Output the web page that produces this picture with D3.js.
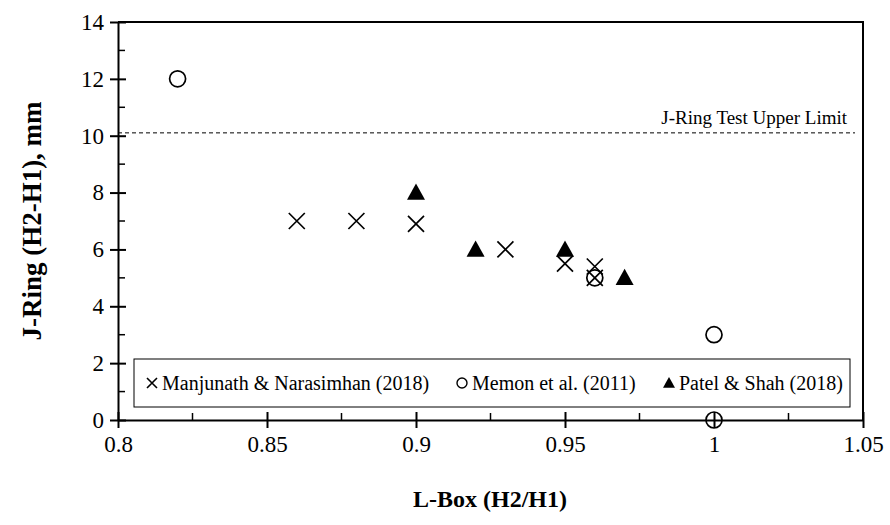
<!DOCTYPE html>
<html><head><meta charset="utf-8">
<script src="https://cdn.jsdelivr.net/npm/d3@7"></script>
<style>body{margin:0;background:#fff}svg{display:block}</style>
</head><body>
<svg id="c" width="890" height="525"></svg>
<script>
const manjunathX = [0.86, 0.88, 0.90, 0.93, 0.95, 0.96, 0.96];
const manjunathY = [7.0, 7.0, 6.9, 6.0, 5.5, 5.4, 5.0];
const memonX = [0.82, 0.96, 1.00, 1.00];
const memonY = [12.0, 5.0, 3.0, 0.0];
const patelX = [0.90, 0.92, 0.95, 0.97];
const patelY = [8.0, 6.0, 6.0, 5.0];
const xTicks = [0.8, 0.85, 0.9, 0.95, 1, 1.05];
const xMinor = [0.825, 0.875, 0.925, 0.975, 1.025];
const yTicks = [0, 2, 4, 6, 8, 10, 12, 14];
const yMinor = [1, 3, 5, 7, 9, 11, 13];
const limitY = 10.1;
const seriesNames = ["Manjunath & Narasimhan (2018)", "Memon et al. (2011)", "Patel & Shah (2018)"];

const FONT = "Liberation Serif";
const svg = d3.select("#c");
const L = 118, R = 863, T = 22, B = 420;
const x = d3.scaleLinear().domain([0.8, 1.05]).range([L, R]);
const y = d3.scaleLinear().domain([0, 14]).range([B, T]);

svg.append("path").attr("d", `M${L},${T}H${R}V${B}`).attr("fill", "none").attr("stroke", "#000").attr("stroke-width", 2);

svg.append("line").attr("x1", L).attr("x2", R - 8).attr("y1", y(limitY)).attr("y2", y(limitY))
  .attr("stroke", "#000").attr("stroke-width", 1).attr("stroke-dasharray", "4,3");
svg.append("text").attr("x", 847).attr("y", y(limitY) - 9).attr("text-anchor", "end")
  .attr("font-family", FONT).attr("font-size", 19).text("J-Ring Test Upper Limit");

const xa = svg.append("g").attr("transform", `translate(0,${B})`)
  .call(d3.axisBottom(x).tickValues(xTicks).tickSize(8).tickSizeOuter(0).tickFormat(d3.format("")));
xa.attr("font-family", FONT);
xa.select(".domain").attr("stroke-width", 2);
xa.selectAll(".tick line").attr("y1", -8).attr("y2", 8).attr("stroke-width", 2);
xa.selectAll(".tick text").attr("font-size", 23).attr("y", 11).attr("dy", "0.9em").attr("fill", "#000");
xa.selectAll(".mx").data(xMinor).enter().append("line").attr("x1", d => x(d)).attr("x2", d => x(d))
  .attr("y1", 0).attr("y2", -7).attr("stroke", "#000").attr("stroke-width", 1.5);

const ya = svg.append("g").attr("transform", `translate(${L},0)`)
  .call(d3.axisLeft(y).tickValues(yTicks).tickSize(8).tickSizeOuter(0));
ya.attr("font-family", FONT);
ya.select(".domain").attr("stroke-width", 2);
ya.selectAll(".tick line").attr("x1", -8).attr("x2", 8).attr("stroke-width", 2);
ya.selectAll(".tick text").attr("font-size", 23).attr("x", -14).attr("fill", "#000");
ya.selectAll(".my").data(yMinor).enter().append("line").attr("y1", d => y(d)).attr("y2", d => y(d))
  .attr("x1", 0).attr("x2", 7).attr("stroke", "#000").attr("stroke-width", 1.5);

svg.append("text").attr("x", 490).attr("y", 507).attr("text-anchor", "middle")
  .attr("font-family", FONT).attr("font-size", 24).attr("font-weight", "bold").text("L-Box (H2/H1)");
svg.append("text").attr("transform", `translate(41,221) rotate(-90)`).attr("text-anchor", "middle")
  .attr("font-family", FONT).attr("font-size", 27).attr("font-weight", "bold").text("J-Ring (H2-H1), mm");

function cross(g, cx, cy, s, w) {
  g.append("path").attr("d", `M${cx - s},${cy - s}L${cx + s},${cy + s}M${cx - s},${cy + s}L${cx + s},${cy - s}`)
    .attr("stroke", "#000").attr("stroke-width", w).attr("fill", "none");
}
function circ(g, cx, cy, r, w) {
  g.append("circle").attr("cx", cx).attr("cy", cy).attr("r", r).attr("fill", "none").attr("stroke", "#000").attr("stroke-width", w);
}
function tri(g, cx, cy, s) {
  g.append("path").attr("d", `M${cx},${cy - s}L${cx + s},${cy + s * 0.8}L${cx - s},${cy + s * 0.8}Z`).attr("fill", "#000");
}
const m = svg.append("g");
memonX.forEach((v, i) => circ(m, x(v), y(memonY[i]), 8, 1.7));
manjunathX.forEach((v, i) => cross(m, x(v), y(manjunathY[i]), 8, 1.7));
patelX.forEach((v, i) => tri(m, x(v), y(patelY[i]), 9));

svg.append("rect").attr("x", 134).attr("y", 359).attr("width", 716).attr("height", 48)
  .attr("fill", "#fff").attr("stroke", "#000").attr("stroke-width", 1);
const lg = svg.append("g").attr("font-family", FONT).attr("font-size", 20);
const ly = 383;
const legX = [152, 462, 669];
cross(lg, legX[0], ly, 5, 1.6);
circ(lg, legX[1], ly, 5, 1.4);
tri(lg, legX[2], ly, 6);
seriesNames.forEach((n, i) => lg.append("text").attr("x", legX[i] + 10).attr("y", ly + 7).text(n));
</script>
</body></html>
